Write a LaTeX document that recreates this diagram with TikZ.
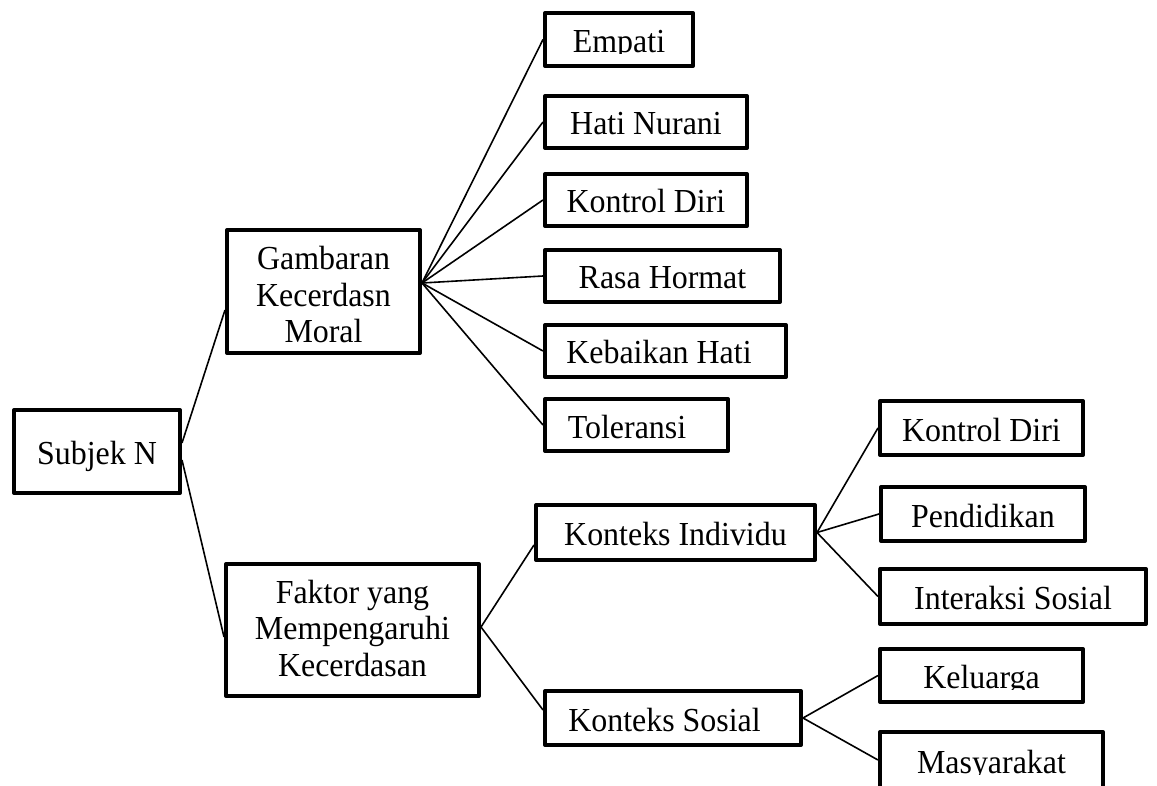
\documentclass[tikz,border=0pt]{standalone}
\usepackage{fontspec}
\setmainfont{Liberation Serif}[FakeStretch=0.95]
\begin{document}
\begin{tikzpicture}[x=0.5pt, y=-0.5pt,
  font=\fontsize{16.8}{18.2}\selectfont,
  box/.style={draw, line width=2pt, line join=round, inner sep=0pt, text height=13pt, text depth=0pt},
  mbox/.style={draw, line width=2pt, line join=round, inner sep=0pt, align=center},
  txt/.style={inner sep=0pt, text height=13pt, text depth=0pt},
  link/.style={line width=0.8pt}]
\useasboundingbox (0,0) rectangle (1157,786);
% level 0 and 1
\node[box, minimum width=83pt, minimum height=41.5pt] (subj) at (97,451.5) {Subjek N};
\node[mbox, minimum width=96.5pt, minimum height=61.5pt] (gamb) at (323.5,291.5) {\rule{0pt}{14.9pt}Gambaran\\Kecerdasn\\Moral};
\node[mbox, minimum width=126.5pt, minimum height=66pt] (fakt) at (352.5,630) {Faktor yang\\Mempengaruhi\\Kecerdasan\rule[-2pt]{0pt}{2pt}};
% moral intelligence aspects
\node[box, minimum width=74pt, minimum height=26.5pt] (empati) at (619,39.5) {};
\node[box, minimum width=101pt, minimum height=26pt] (hati) at (646,122) {Hati Nurani};
\node[box, minimum width=101pt, minimum height=26pt] (kontrolA) at (646,200) {Kontrol Diri};
\node[box, minimum width=117.5pt, minimum height=26pt] (rasa) at (662.5,276) {Rasa Hormat};
\node[box, minimum width=120.5pt, minimum height=26pt] (baik) at (665.5,351) {Kebaikan Hati\hspace*{6.5pt}};
\node[box, minimum width=91.5pt, minimum height=26pt] (toler) at (636.5,425) {Toleransi\hspace*{9.5pt}};
% contexts
\node[box, minimum width=139.5pt, minimum height=27.5pt] (indiv) at (675.5,532.5) {Konteks Individu};
\node[box, minimum width=128pt, minimum height=27pt] (sosial) at (673,718) {Konteks Sosial\hspace*{8.5pt}};
\node[box, minimum width=101.5pt, minimum height=27pt] (kontrolB) at (981.5,428) {Kontrol Diri};
\node[box, minimum width=102pt, minimum height=27pt] (pend) at (983,514) {Pendidikan};
\node[box, minimum width=133pt, minimum height=27.5pt] (inter) at (1013,596.5) {Interaksi Sosial};
\node[box, minimum width=101.5pt, minimum height=26.5pt] (kel) at (981.5,675.5) {};
\node[box, minimum width=111.5pt, minimum height=28pt] (masy) at (991.5,760) {};
% texts whose descenders are cut off in the reference
\begin{scope}
\clip ([yshift=-7pt]empati.west) rectangle (empati.north east);
\node[txt] (empatiT) at (empati.center) {Empati};
\end{scope}
\begin{scope}
\clip ([yshift=-7pt]kel.west) rectangle (kel.north east);
\node[txt] (kelT) at (kel.center) {Keluarga};
\end{scope}
\begin{scope}
\clip ([yshift=-7pt]masy.west) rectangle (masy.north east);
\node[txt] (masyT) at (masy.center) {Masyarakat};
\end{scope}
% connectors
\draw[link] ([yshift=4.25pt]subj.east) -- ([yshift=-9.25pt]gamb.west);
\draw[link] ([yshift=-4.25pt]subj.east) -- ([yshift=-3.5pt]fakt.west);
\foreach \t in {empati,hati,kontrolA,rasa,baik,toler}
  \draw[link] ([yshift=4.25pt]gamb.east) -- (\t.west);
\draw[link] ([yshift=1.5pt]fakt.east) -- ([yshift=-6.25pt]indiv.west);
\draw[link] ([yshift=1.5pt]fakt.east) -- ([yshift=4pt]sosial.west);
\foreach \t in {kontrolB,pend,inter}
  \draw[link] (indiv.east) -- (\t.west);
\foreach \t in {kel,masy}
  \draw[link] (sosial.east) -- (\t.west);
\end{tikzpicture}
\end{document}
